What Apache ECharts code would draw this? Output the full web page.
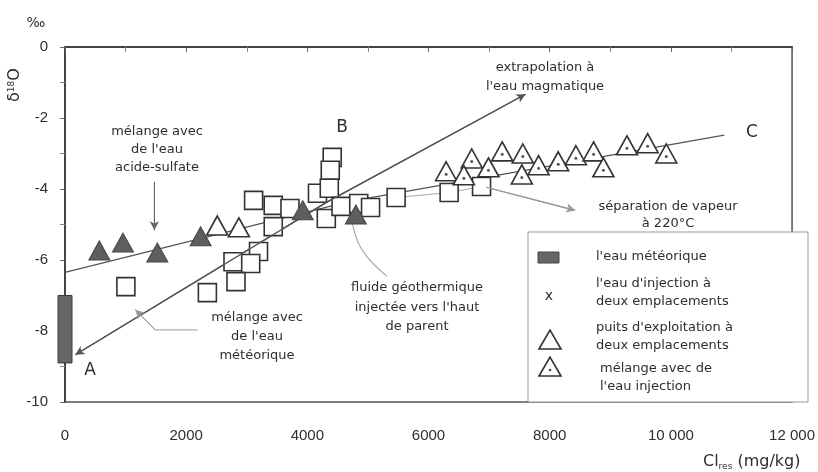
<!doctype html>
<html>
<head>
<meta charset="utf-8">
<title>δ18O - Cl</title>
<script src="https://cdn.jsdelivr.net/npm/echarts@6/dist/echarts.min.js"></script>
</head>
<body style="margin:0;background:#fff">
<div id="chart" style="width:818px;height:472px;"></div>
<script type="text/javascript">
// ticks
var xTickLabels = ['0', '2000', '4000', '6000', '8000', '10 000', '12 000'];
var yTickLabels = ['-10', '-8', '-6', '-4', '-2', '0'];

// eau meteorique (barre)
var meteoricX = [0];
var meteoricTop = [-7.0];
var meteoricBottom = [-8.9];

// carres
var squareX = [1005, 3113, 3437, 3713, 3437, 3194, 2773, 3065, 2822, 2350, 4167, 4410, 4378, 4362, 4313, 4556, 4848, 5043, 5465, 6340, 6875];
var squareY = [-6.75, -4.32, -4.46, -4.55, -5.06, -5.76, -6.05, -6.10, -6.61, -6.92, -4.12, -3.11, -3.47, -3.98, -4.83, -4.49, -4.41, -4.52, -4.24, -4.10, -3.93];

// triangles pleins
var triFilledX = [567, 957, 1524, 2238, 3924, 4800];
var triFilledY = [-5.73, -5.51, -5.79, -5.33, -4.60, -4.72];

// triangles vides
var triOpenX = [2513, 2870];
var triOpenY = [-5.03, -5.08];

// triangles avec point
var triDotX = [6290, 6713, 6583, 6989, 7216, 7556, 7540, 7816, 8140, 8432, 8724, 8886, 9275, 9616, 9924];
var triDotY = [-3.50, -3.14, -3.61, -3.39, -2.94, -3.00, -3.59, -3.33, -3.22, -3.05, -2.94, -3.39, -2.77, -2.71, -3.00];

// lignes
var lineAX = [170, 4300, 7600];
var lineAY = [-8.67, -4.39, -1.33];
var mixX = [0, 4700, 10880];
var mixY = [-6.35, -4.35, -2.48];
var linkX = [5465, 6340, 6875];
var linkY = [-4.24, -4.10, -3.93];
var vapX = [6950, 8420];
var vapY = [-3.95, -4.60];
var fluideX = [4745, 4907, 5312];
var fluideY = [-4.96, -5.72, -6.45];
var acideX = [1475, 1475];
var acideY = [-3.80, -5.16];
var meteoLineX = [2190, 1490, 1160];
var meteoLineY = [-7.97, -7.97, -7.40];

function pairs(xs, ys) {
	var out = [];
	for (var i = 0; i < xs.length; i++) out.push([xs[i], ys[i]]);
	return out;
}

function seg(xs, ys, a, b) {
	return [{coord: [xs[a], ys[a]]}, {coord: [xs[b], ys[b]]}];
}

var FONT = '"DejaVu Sans", "Liberation Sans", sans-serif';
var TXT = '#2e2e2e';

function textLines(lines, x, y, gap, align) {
	var out = [];
	for (var i = 0; i < lines.length; i++) {
		out.push({
			type: 'text', x: x, y: y + i * gap, z: 20,
			style: {text: lines[i], font: '13px ' + FONT, fill: TXT,
				textAlign: align || 'center', textVerticalAlign: 'middle'}
		});
	}
	return out;
}

function lineSeries(xs, ys, color, width, smooth, arrows) {
	var s = {
		type: 'line', data: pairs(xs, ys), symbol: 'none', smooth: smooth || false,
		lineStyle: {color: color, width: width}, z: 2, silent: true, animation: false
	};
	if (arrows) {
		s.markLine = {
			silent: true, animation: false, symbol: ['none', 'arrow'], symbolSize: [7, 9],
			label: {show: false}, lineStyle: {color: color, width: width, type: 'solid'},
			data: arrows
		};
	}
	return s;
}

var chart = echarts.init(document.getElementById('chart'));

var graphics = [];
// legende
graphics.push({type: 'rect', z: 15, shape: {x: 528, y: 232, width: 280, height: 170},
	style: {fill: '#fff', stroke: '#999', lineWidth: 1}});
graphics.push({type: 'rect', z: 16, shape: {x: 538, y: 252, width: 21, height: 11},
	style: {fill: '#666', stroke: '#444', lineWidth: 1}});
graphics.push({type: 'text', x: 549, y: 296, z: 16,
	style: {text: 'x', font: '14px ' + FONT, fill: TXT, textAlign: 'center', textVerticalAlign: 'middle'}});
graphics.push({type: 'polygon', z: 16, shape: {points: [[539, 349], [550, 330], [561, 349]]},
	style: {fill: '#fff', stroke: '#333', lineWidth: 1.6}});
graphics.push({type: 'polygon', z: 16, shape: {points: [[539, 376], [550, 357], [561, 376]]},
	style: {fill: '#fff', stroke: '#333', lineWidth: 1.6}});
graphics.push({type: 'circle', z: 17, shape: {cx: 550, cy: 370, r: 1.3}, style: {fill: '#444'}});
graphics = graphics.concat(textLines(["l'eau météorique"], 596, 257, 18, 'left'));
graphics = graphics.concat(textLines(["l'eau d'injection à", 'deux emplacements'], 596, 284, 18, 'left'));
graphics = graphics.concat(textLines(["puits d'exploitation à", 'deux emplacements'], 596, 328, 18, 'left'));
graphics = graphics.concat(textLines(['mélange avec de', "l'eau injection"], 600, 369, 18, 'left'));

// annotations
graphics = graphics.concat(textLines(['mélange avec', "de l'eau", 'acide-sulfate'], 157, 132, 18));
graphics = graphics.concat(textLines(['mélange avec', "de l'eau", 'météorique'], 257, 318, 19));
graphics = graphics.concat(textLines(['fluide géothermique', "injectée vers l'haut", 'de parent'], 417, 288, 19.5));
graphics = graphics.concat(textLines(['extrapolation à', "l'eau magmatique"], 545, 68, 19));
graphics = graphics.concat(textLines(['séparation de vapeur', 'à 220°C'], 668, 207, 17));

// lettres
[['A', 90, 371], ['B', 342, 128], ['C', 752, 133]].forEach(function (l) {
	graphics.push({type: 'text', x: l[1], y: l[2], z: 20,
		style: {text: l[0], font: '17px ' + FONT, fill: TXT, textAlign: 'center', textVerticalAlign: 'middle'}});
});

// titres des axes
graphics.push({type: 'text', x: 36, y: 23, z: 20,
	style: {text: '‰', font: '14px ' + FONT, fill: TXT, textAlign: 'center', textVerticalAlign: 'middle'}});
graphics.push({type: 'text', x: 15, y: 85, rotation: Math.PI / 2, z: 20,
	style: {
		text: '{a|δ}{s|18}{a|O}', textAlign: 'center', textVerticalAlign: 'middle',
		rich: {
			a: {font: '16px ' + FONT, fill: TXT},
			s: {font: '9px ' + FONT, fill: TXT, verticalAlign: 'top', padding: [0, 0, 6, 0]}
		}
	}});
graphics.push({type: 'text', x: 703, y: 462, z: 20,
	style: {
		text: '{a|Cl}{s|res}{a| (mg/kg)}', textAlign: 'left', textVerticalAlign: 'middle',
		rich: {
			a: {font: '16px ' + FONT, fill: TXT},
			s: {font: '9px ' + FONT, fill: TXT, padding: [9, 0, 0, 0]}
		}
	}});

chart.setOption({
	animation: false,
	backgroundColor: '#fff',
	grid: {left: 65, right: 12, top: 47, bottom: 70, show: true, borderColor: '#555', borderWidth: 1.5},
	xAxis: {
		type: 'value', min: 0, max: 12000, interval: 2000,
		axisLine: {show: true, lineStyle: {color: '#444', width: 2}},
		axisTick: {show: true, length: 5, lineStyle: {color: '#666'}},
		minorTick: {show: true, splitNumber: 2, length: 5, lineStyle: {color: '#888'}},
		splitLine: {show: false},
		axisLabel: {
			fontSize: 15, color: TXT, margin: 26, fontFamily: 'Liberation Sans',
			formatter: function (v) { return xTickLabels[Math.round(v / 2000)]; }
		}
	},
	yAxis: {
		type: 'value', min: -10, max: 0, interval: 2,
		axisLine: {show: true, lineStyle: {color: '#444', width: 2}},
		axisTick: {show: true, length: 5, lineStyle: {color: '#666'}},
		minorTick: {show: true, splitNumber: 2, length: 5, lineStyle: {color: '#888'}},
		splitLine: {show: false},
		axisLabel: {
			fontSize: 15, color: TXT, margin: 17, fontFamily: 'Liberation Sans',
			formatter: function (v) { return yTickLabels[Math.round((v + 10) / 2)]; }
		}
	},
	graphic: graphics,
	series: [
		lineSeries(lineAX, lineAY, '#555', 1.3, false, [seg(lineAX, lineAY, 1, 0), seg(lineAX, lineAY, 1, 2)]),
		lineSeries(mixX, mixY, '#555', 1.3),
		lineSeries(linkX, linkY, '#aaa', 1),
		lineSeries(vapX, vapY, '#999', 1.2, false, [seg(vapX, vapY, 0, 1)]),
		lineSeries(fluideX, fluideY, '#aaa', 1.2, true),
		lineSeries(acideX, acideY, '#666', 1, false, [seg(acideX, acideY, 0, 1)]),
		lineSeries(meteoLineX, meteoLineY, '#999', 1, false, [seg(meteoLineX, meteoLineY, 1, 2)]),
		{
			type: 'custom', z: 3, silent: true,
			data: meteoricX.map(function (x, i) { return [x, meteoricTop[i], meteoricBottom[i]]; }),
			renderItem: function (params, api) {
				var p1 = api.coord([api.value(0), api.value(1)]);
				var p2 = api.coord([api.value(0), api.value(2)]);
				return {type: 'rect', shape: {x: p1[0] - 7, y: p1[1], width: 14, height: p2[1] - p1[1]},
					style: {fill: '#666', stroke: '#3a3a3a', lineWidth: 1}};
			}
		},
		{
			type: 'scatter', z: 4, silent: true, data: pairs(squareX, squareY),
			symbol: 'rect', symbolSize: 18,
			itemStyle: {color: '#fff', borderColor: '#333', borderWidth: 1.6, opacity: 1}
		},
		{
			type: 'scatter', z: 5, silent: true, data: pairs(triOpenX, triOpenY),
			symbol: 'triangle', symbolSize: [21, 19],
			itemStyle: {color: '#fff', borderColor: '#333', borderWidth: 1.6, opacity: 1}
		},
		{
			type: 'scatter', z: 5, silent: true, data: pairs(triDotX, triDotY),
			symbol: 'triangle', symbolSize: [21, 19],
			itemStyle: {color: '#fff', borderColor: '#333', borderWidth: 1.6, opacity: 1}
		},
		{
			type: 'scatter', z: 6, silent: true, data: pairs(triDotX, triDotY),
			symbol: 'circle', symbolSize: 3, symbolOffset: [0, 3],
			itemStyle: {color: '#555', opacity: 1}
		},
		{
			type: 'scatter', z: 6, silent: true, data: pairs(triFilledX, triFilledY),
			symbol: 'triangle', symbolSize: [21, 19],
			itemStyle: {color: '#5e5e5e', borderColor: '#444', borderWidth: 1, opacity: 1}
		}
	]
});
</script>
</body>
</html>
